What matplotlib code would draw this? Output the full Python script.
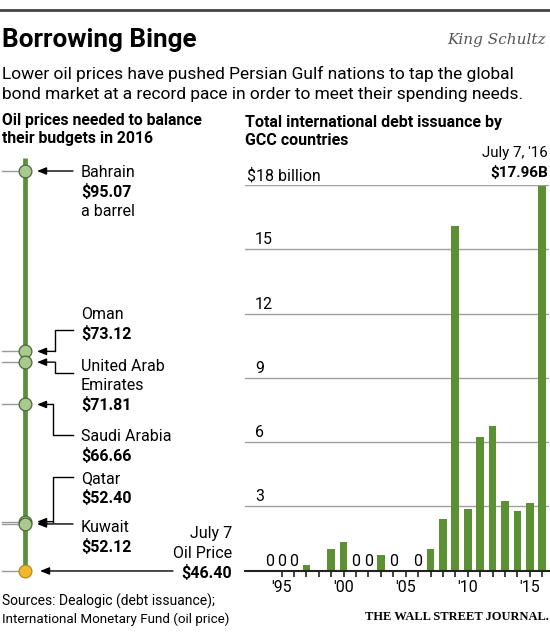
import numpy as np
import matplotlib
matplotlib.use("Agg")
import matplotlib.pyplot as plt
from matplotlib import font_manager

# ---- data ----
COUNTRIES = ["Bahrain", "Oman", "United Arab\nEmirates", "Saudi Arabia", "Qatar", "Kuwait"]
BREAKEVEN = [95.07, 73.12, 71.81, 66.66, 52.40, 52.12]
OIL_PRICE = 46.40

YEARS = list(range(1994, 2017))
ISSUANCE = [0, 0, 0, 0.25, np.nan, 1.0, 1.35, 0, 0, 0.75, 0, 0.05, 0,
            1.0, 2.4, 16.1, 2.87, 6.22, 6.77, 3.25, 2.77, 3.15, 17.96]
GRID_VALUES = [3, 6, 9, 12, 15, 18]
GRID_LABELS = ["3", "6", "9", "12", "15", "$18 billion"]
XTICK_YEARS = list(range(1995, 2017))

# ---- style ----
W, H = 550, 632
BAR_GREEN = "#5b9132"
LINE_GREEN = "#5a8f3c"
DOT_FILL = "#a9c98f"
DOT_EDGE = "#4a6a3a"
OIL_FILL = "#f3b92e"
STUB = "#9a9a9a"

names = {f.name for f in font_manager.fontManager.ttflist}
SANS = "Roboto" if "Roboto" in names else "DejaVu Sans"
NARROW = "Liberation Sans Narrow" if "Liberation Sans Narrow" in names else SANS
plt.rcParams["font.family"] = [SANS, "DejaVu Sans"]


def fx(px):
    return px / W


def fy(px):
    return 1 - px / H


fig = plt.figure(figsize=(W / 100, H / 100), dpi=100)

# header
fig.add_artist(plt.Line2D([0, 1], [fy(10), fy(10)], color="#444444", lw=2))
fig.text(fx(2), fy(46.5), "Borrowing Binge", fontsize=18.8, weight="bold", va="baseline")
fig.text(fx(546), fy(44), "King Schultz", fontsize=11, family="DejaVu Serif",
         style="italic", color="#555555", ha="right", va="baseline")
fig.text(fx(2), fy(78.5), "Lower oil prices have pushed Persian Gulf nations to tap the global",
         fontsize=12.5, va="baseline")
fig.text(fx(2), fy(98.5), "bond market at a record pace in order to meet their spending needs.",
         fontsize=12.5, va="baseline")
fig.text(fx(2), fy(125), "Oil prices needed to balance", fontsize=11.3, weight="bold", va="baseline")
fig.text(fx(2), fy(143.5), "their budgets in 2016", fontsize=11.3, weight="bold", va="baseline")
fig.text(fx(245), fy(126.5), "Total international debt issuance by", fontsize=11.5,
         weight="bold", va="baseline")
fig.text(fx(245), fy(145), "GCC countries", fontsize=11.5, weight="bold", va="baseline")

# ---- left panel: break-even oil prices ----
TOP_PX, BOT_PX = 150, 585
PX_PER_USD = 8.218
top_price = BREAKEVEN[0] + (171 - TOP_PX) / PX_PER_USD
bot_price = top_price - (BOT_PX - TOP_PX) / PX_PER_USD


def price_at(px):
    return top_price - (px - TOP_PX) / PX_PER_USD


axl = fig.add_axes([0, fy(BOT_PX), fx(240), (BOT_PX - TOP_PX) / H])
axl.set_xlim(0, 240)
axl.set_ylim(bot_price, top_price)
axl.axis("off")

axl.plot([25, 25], [price_at(158), price_at(577)], color=LINE_GREEN, lw=3.4,
         solid_capstyle="butt", zorder=1)
for p in BREAKEVEN + [OIL_PRICE]:
    axl.plot([2, 19], [p, p], color=STUB, lw=1, zorder=1)
axl.plot([25] * len(BREAKEVEN), BREAKEVEN, "o", ms=9.2, mfc=DOT_FILL, mec=DOT_EDGE,
         mew=0.9, zorder=3)
axl.plot([25], [OIL_PRICE], "o", ms=9.2, mfc=OIL_FILL, mec="#b58a1e", mew=0.9, zorder=3)

label_px = [171, 313, 365, 435, 477, 526]
conn_px = [171, 330, 373, 435, 477, 526]
elbow_x = [None, 55, 55, 53, 53, None]
extra = {0: "a barrel"}
arrow_kw = dict(arrowstyle="-|>,head_length=0.55,head_width=0.22", color="black",
                lw=1, shrinkA=0, shrinkB=0)

for i, (name, val) in enumerate(zip(COUNTRIES, BREAKEVEN)):
    y = label_px[i]
    for line in name.split("\n"):
        axl.text(81, price_at(y), line, fontsize=11.5, va="center_baseline")
        y += 19.5
    axl.text(81, price_at(y), f"${val:.2f}", fontsize=11.5, weight="bold", va="center_baseline")
    if i in extra:
        y += 19.5
        axl.text(81, price_at(y), extra[i], fontsize=11.5, va="center_baseline")
    cy = price_at(conn_px[i])
    if elbow_x[i] is None:
        axl.annotate("", xy=(37, val), xytext=(73, val), arrowprops=arrow_kw)
    else:
        ex = elbow_x[i]
        axl.plot([73, ex, ex], [cy, cy, val], color="black", lw=1)
        axl.annotate("", xy=(37, val), xytext=(ex, val), arrowprops=arrow_kw)

axl.annotate("", xy=(40, OIL_PRICE), xytext=(173, OIL_PRICE), arrowprops=arrow_kw)
for txt, py, wt in [("July 7", 532, "normal"), ("Oil Price", 551.5, "normal"),
                    (f"${OIL_PRICE:.2f}", 571, "bold")]:
    axl.text(232, price_at(py), txt, fontsize=11.5, weight=wt, ha="right", va="center_baseline")

# ---- right panel: debt issuance ----
ax = fig.add_axes([fx(245), fy(570.7), 304 / W, (570.7 - 185) / H])
ax.bar(YEARS, ISSUANCE, width=0.62, color=BAR_GREEN, zorder=2)
ax.set_xlim(1992.05, 2016.55)
ax.set_ylim(0, 18)
ax.set_yticks(GRID_VALUES)
ax.grid(axis="y", color="#a0a0a0", lw=1)
ax.set_axisbelow(True)
ax.tick_params(axis="y", left=False, labelleft=False)
for s in ["top", "left", "right"]:
    ax.spines[s].set_visible(False)
ax.spines["bottom"].set_linewidth(1.5)
ax.spines["bottom"].set_color("#222222")
ax.set_xticks(XTICK_YEARS)
ax.set_xticklabels([f"'{y % 100:02d}" if y % 5 == 0 else "" for y in XTICK_YEARS],
                   fontsize=11.5, family=NARROW)
ax.tick_params(axis="x", length=4, width=1.2, color="#222222", pad=2.5)

for v, lab in zip(GRID_VALUES, GRID_LABELS):
    xpos = 0.0066 if lab.startswith("$") else 0.033
    ax.annotate(lab, xy=(xpos, v), xycoords=("axes fraction", "data"), xytext=(0, 3.6),
                textcoords="offset points", fontsize=11.5, family=NARROW, va="baseline",
                annotation_clip=False)

for yr, v in zip(YEARS, ISSUANCE):
    if v == 0:
        ax.annotate("0", xy=(yr, 0), xytext=(0, 3.3), textcoords="offset points",
                    ha="center", va="baseline", fontsize=11.5, family=NARROW)

fig.text(fx(548), fy(157), "July 7, '16", fontsize=10.8, ha="right", va="baseline", family=NARROW)
fig.text(fx(548), fy(177), f"${ISSUANCE[-1]:.2f}B", fontsize=11, weight="bold",
         ha="right", va="baseline")

# ---- footer ----
fig.text(fx(2), fy(605.5), "Sources: Dealogic (debt issuance);", fontsize=10,
         family=NARROW, va="baseline")
fig.text(fx(2), fy(623), "International Monetary Fund (oil price)", fontsize=9.6,
         family=NARROW, va="baseline")
fig.text(fx(549), fy(620), "THE WALL STREET JOURNAL.", fontsize=9, weight="bold",
         family="Liberation Serif", ha="right", va="baseline")

fig.savefig("out.png", dpi=100)
